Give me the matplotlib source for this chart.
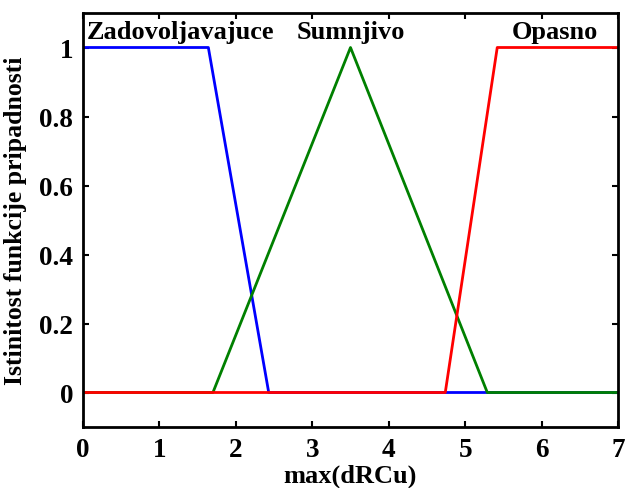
import matplotlib
matplotlib.use("Agg")
import matplotlib.pyplot as plt

# Membership function breakpoints
x_zad = [0, 1.64, 2.43, 7]
y_zad = [1, 1, 0, 0]
x_sum = [0, 1.70, 3.50, 5.29, 7]
y_sum = [0, 0, 1, 0, 0]
x_opa = [0, 4.74, 5.42, 7]
y_opa = [0, 0, 1, 1]

labels = ["Zadovoljavajuce", "Sumnjivo", "Opasno"]
label_x = [1.28, 3.5, 6.18]
label_y = 1.045
xticks = [0, 1, 2, 3, 4, 5, 6, 7]
yticks = [0, 0.2, 0.4, 0.6, 0.8, 1]
ytick_labels = ["0", "0.2", "0.4", "0.6", "0.8", "1"]

plt.rcParams['font.family'] = ['Liberation Serif', 'DejaVu Serif']
plt.rcParams['font.weight'] = 'bold'

fig = plt.figure(figsize=(6.25, 4.89), dpi=100)
ax = fig.add_axes([83/625, (489-428)/489, (618-83)/625, (428-14)/489])

ax.plot(x_zad, y_zad, color='#0000ff', lw=2)
ax.plot(x_sum, y_sum, color='#008000', lw=2)
ax.plot(x_opa, y_opa, color='#ff0000', lw=2)

for t, xx in zip(labels, label_x):
    ax.text(xx, label_y, t, ha='center', va='center', fontsize=19, fontweight='bold')

ax.set_xlim(0, 7)
ax.set_ylim(-0.1, 1.1)
ax.set_xticks(xticks)
ax.set_yticks(yticks)
ax.set_yticklabels(ytick_labels)
ax.tick_params(direction='in', length=4, width=1.5, labelsize=19.5, top=True, right=True,
               labeltop=False, labelright=False, pad=7)
for s in ax.spines.values():
    s.set_linewidth(2)
ax.set_xlabel("max(dRCu)", fontsize=19, fontweight='bold', labelpad=1)
ax.set_ylabel("Istinitost funkcije pripadnosti", fontsize=18.5, fontweight='bold', labelpad=9)

fig.savefig("out.png", dpi=100)
